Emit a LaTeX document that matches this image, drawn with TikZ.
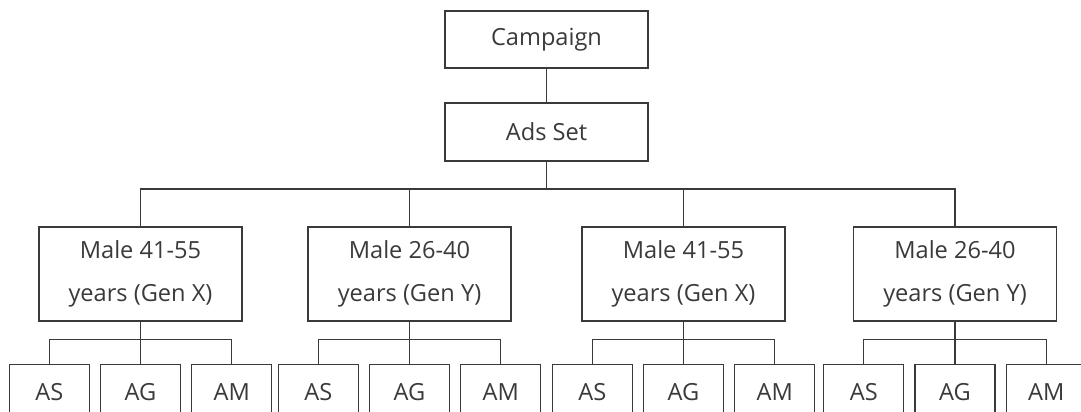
\documentclass[tikz,border=0pt]{standalone}
\usepackage{fontspec}
\setmainfont{Open Sans}
\usetikzlibrary{positioning}
\definecolor{ink}{HTML}{3A3A3A}

\begin{document}
\begin{tikzpicture}[x=0.5pt, y=-0.5pt, line width=0.6pt, color=ink,
  box/.style={draw, inner sep=0pt, align=center, font=\fontsize{11.8}{21.5}\selectfont},
  topbox/.style={box, minimum width=101.5pt, minimum height=28.5pt},
  genbox/.style={box, minimum width=101.5pt, minimum height=47pt},
  leafbox/.style={box, minimum width=40pt, minimum height=28pt}]
  \useasboundingbox (0,0) rectangle (1081,412);
  % top of the tree
  \node[topbox] (camp) at (546.5,39.5) {Campaign};
  \node[topbox, minimum height=29pt] (ads) at (546.5,132) {Ads Set};
  \draw (camp) -- (ads);
  \coordinate (bus) at (546.5,189);
  \draw (ads.south) -- (bus);
  % target groups
  \node[genbox] (g1) at (140.5,274) {Male 41-55\\years (Gen X)};
  \node[genbox] (g2) at (409.5,274) {Male 26-40\\years (Gen Y)};
  \node[genbox] (g3) at (683.5,274) {Male 41-55\\years (Gen X)};
  \node[genbox] (g4) at (955,274) {Male 26-40\\years (Gen Y)};
  \foreach \g in {1,...,4} { \draw (g\g.north) |- (bus); }
  % ads under each group
  \foreach \g in {1,...,4} {
    \node[leafbox, below=21pt of g\g] (g\g-AG) {AG};
    \node[leafbox, left=5pt of g\g-AG] (g\g-AS) {AS};
    \node[leafbox, right=5pt of g\g-AG] (g\g-AM) {AM};
    \draw (g\g.south) -- ++(0,18) coordinate (s\g);
    \draw (g\g-AS.north) |- (s\g) -| (g\g-AM.north);
    \draw (s\g) -- (g\g-AG.north);
  }
\end{tikzpicture}
\end{document}
